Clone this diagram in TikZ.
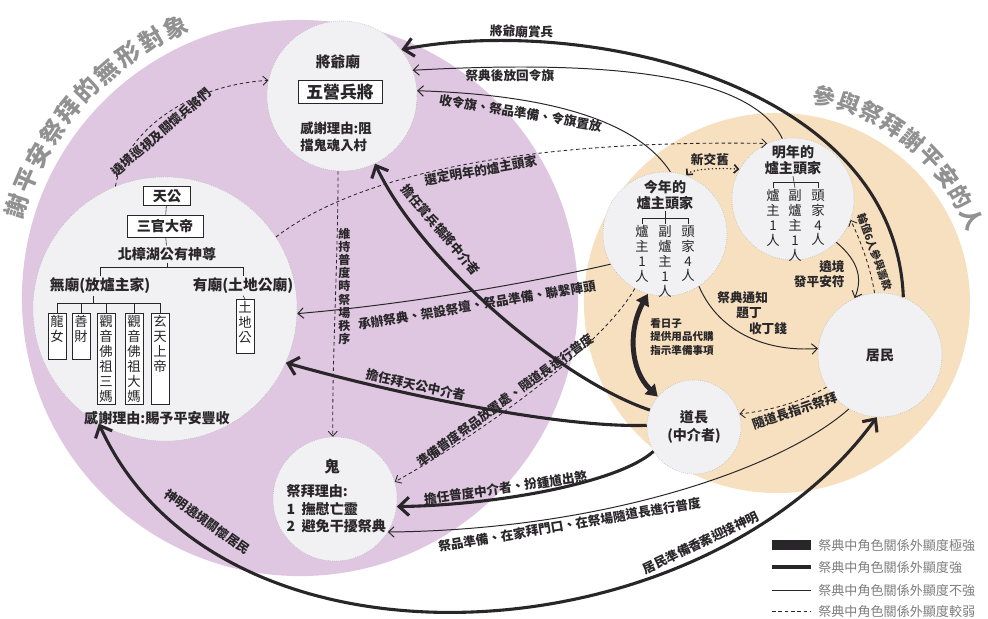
\documentclass[tikz,border=0pt]{standalone}
\usepackage{fontspec}
\setmainfont{Noto Sans CJK TC}
\usetikzlibrary{arrows.meta}

\definecolor{hallpurple}{RGB}{223,199,225}
\definecolor{folkbeige}{RGB}{247,224,191}
\definecolor{actorfill}{RGB}{241,241,243}
\definecolor{ink}{RGB}{40,38,40}
\definecolor{titlegray}{RGB}{145,145,145}
\definecolor{keygray}{RGB}{125,125,125}

\newcommand{\lblfont}{\fontsize{9}{10.5}\selectfont\bfseries}
\newcommand{\colfont}{\fontsize{9.5}{10.6}\selectfont}

\begin{document}
\begin{tikzpicture}[x=0.025cm, y=-0.025cm,
    actor/.style={circle, fill=actorfill, draw=gray!60, densely dotted, inner sep=0pt, text=ink},
    godbox/.style={draw=ink, thin, fill=white, inner sep=1pt, text=ink, font=\fontsize{10}{12}\selectfont\bfseries},
    colbox/.style={draw=ink, thin, fill=white, anchor=north, align=center, inner sep=1.5pt, text=ink, font=\colfont},
    colname/.style={anchor=north, align=center, inner sep=1pt, text=ink, font=\colfont},
    treeline/.style={draw=ink, thin},
    txt/.style={text=ink, inner sep=1pt, font=\fontsize{10}{12}\selectfont\bfseries},
    lbl/.style={text=ink, inner sep=1.5pt, font=\lblfont},
    strong/.style={draw=ink, line width=2.2pt, -{Straight Barb[length=7pt,width=13pt]}},
    weak/.style={draw=ink, line width=.7pt, -{Straight Barb[length=4pt,width=7.5pt]}},
    faint/.style={draw=ink, line width=.6pt, dash pattern=on 2.5pt off 2pt, -{Straight Barb[length=3.5pt,width=6.5pt]}},
    dotline/.style={draw=ink, line width=1.2pt, line cap=round, dash pattern=on 0pt off 2.6pt,
      {Straight Barb[length=3pt,width=6pt]}-{Straight Barb[length=3pt,width=6pt]}},
    vstrong/.style={draw=ink, line width=3.5pt, {Triangle[length=8pt,width=10pt]}-{Triangle[length=8pt,width=10pt]}},
    titletext/.style={text=titlegray, inner sep=0pt, font=\fontsize{17}{17}\selectfont\bfseries},
    keytext/.style={text=keygray, anchor=west, inner sep=0pt, font=\fontsize{9.3}{11}\selectfont}]

\useasboundingbox (0,0) rectangle (988,619);

% two groups
\fill[hallpurple] (300,298) circle [radius=6.95cm];
\fill[folkbeige] (777,303) ellipse [x radius=4.825cm, y radius=4.75cm];

\foreach \ch [count=\i from 0] in {謝,平,安,祭,拜,的,無,形,對,象} {
  \pgfmathsetmacro\ang{162-5.25*\i}
  \node[titletext, rotate=\ang-90] (lt\i) at ({300+298*cos(\ang)},{298-298*sin(\ang)}) {\ch};
}
\foreach \ch [count=\i from 0] in {參,與,祭,拜,謝,平,安,的,人} {
  \pgfmathsetmacro\ang{77-6.7*\i}
  \node[titletext, font=\fontsize{16}{16}\selectfont\bfseries, rotate=\ang-90] (rt\i) at ({777+212*cos(\ang)},{303-212*sin(\ang)}) {\ch};
}

% 將爺廟
\node[actor, minimum size=3.75cm] (jyt) at (342,96) {};
\node[txt, font=\fontsize{10.5}{12}\selectfont\bfseries] (jytname) at (338,62) {將爺廟};
\node[godbox, font=\fontsize{12}{14}\selectfont\bfseries, minimum width=2.1cm, minimum height=.575cm] (wuying) at (340,92) {五營兵將};
\node[txt, align=left, font=\fontsize{9.5}{12}\selectfont\bfseries] (jytwhy) at (336,137) {感謝理由:阻\\擋鬼魂入村};

% 天公
\node[actor, minimum size=6.6cm] (tg) at (165,309) {};
\node[godbox, minimum width=1.175cm, minimum height=.475cm] (tiangong) at (167,196) {天公};
\node[godbox, minimum width=1.9cm, minimum height=.55cm] (sanguan) at (165,226) {三官大帝};
\node[txt] (beizhang) at (167,254) {北樟湖公有神尊};
\node[txt, font=\fontsize{10.5}{12}\selectfont\bfseries] (wumiao) at (100,286) {無廟(放爐主家)};
\node[txt, font=\fontsize{10.5}{12}\selectfont\bfseries] (youmiao) at (243,286) {有廟(土地公廟)};
\node[colbox] (longnv) at (57,313) {龍\\女\\\phantom{女}};
\node[colbox] (shancai) at (81,313) {善\\財\\\phantom{財}};
\node[colbox] (sanma) at (106,313) {觀\\音\\佛\\祖\\三\\媽};
\node[colbox] (dama) at (134,313) {觀\\音\\佛\\祖\\大\\媽};
\node[colbox] (xuantian) at (160,313) {玄\\天\\上\\帝\\\phantom{帝}\\\phantom{帝}};
\node[colbox] (tudigong) at (245,299) {土\\地\\公\\[-5pt]\phantom{公}};
\node[txt] (tgwhy) at (157,418) {感謝理由:賜予平安豐收};

\coordinate (bar1) at (100,267);
\coordinate (bar2) at (93,303);
\draw[treeline] (tiangong) -- (sanguan);
\draw[treeline] (sanguan) -- (beizhang);
\draw[treeline] (beizhang.south) -- (beizhang.south |- bar1);
\draw[treeline] (wumiao.north) -- (wumiao.north |- bar1) -- (youmiao.north |- bar1) -- (youmiao.north);
\draw[treeline] (wumiao.south -| bar2) -- (bar2);
\draw[treeline] (longnv.north |- bar2) -- (xuantian.north |- bar2);
\foreach \n in {longnv,shancai,sanma,dama,xuantian}
  \draw[treeline] (\n.north) -- (\n.north |- bar2);
\draw[treeline] (youmiao.south) -- (tudigong.north);

% 鬼
\node[actor, minimum size=3.1cm] (gui) at (335,499) {};
\node[txt, font=\fontsize{11}{13}\selectfont\bfseries] (guiname) at (332,467) {鬼};
\node[txt, align=left, anchor=north west, font=\fontsize{10}{12.5}\selectfont\bfseries] (guiwhy) at (285,483) {祭拜理由:\\1\ \ 撫慰亡靈\\2\ \ 避免干擾祭典};

% 今年的爐主頭家
\node[actor, minimum size=3.1cm] (jin) at (665,234) {};
\node[colname, anchor=center, font=\fontsize{10}{11}\selectfont\bfseries] (jintitle) at (665,195) {今年的\\爐主頭家};
\node[colname] (jincol1) at (642,224) {爐\\主\\1\\人};
\node[colname] (jincol2) at (665,224) {副\\爐\\主\\1\\人};
\node[colname] (jincol3) at (688,224) {頭\\家\\4\\人};
\draw[treeline] (jincol1.north) -- ++(0,-6) -| (jincol3.north);
\draw[treeline] (jintitle.south) -- (jincol2.north);

% 明年的爐主頭家
\node[actor, minimum size=3.05cm] (ming) at (793,199) {};
\node[colname, anchor=center, font=\fontsize{10}{11}\selectfont\bfseries] (mingtitle) at (793,160) {明年的\\爐主頭家};
\node[colname] (mingcol1) at (773,188) {爐\\主\\1\\人};
\node[colname] (mingcol2) at (795,188) {副\\爐\\主\\1\\人};
\node[colname] (mingcol3) at (818,188) {頭\\家\\4\\人};
\draw[treeline] (mingcol1.north) -- ++(0,-6) -| (mingcol3.north);
\draw[treeline] (mingtitle.south) -- (mingcol2.north);

% 居民, 道長
\node[actor, minimum size=3.1cm, font=\fontsize{10}{12}\selectfont\bfseries] (jm) at (880,355) {居民};
\node[actor, minimum size=2.35cm, align=center, font=\fontsize{10}{12.5}\selectfont\bfseries] (dz) at (694,427) {道長\\(中介者)};

% relations
\draw[strong] (jm.68) .. controls (895,80) and (580,15) .. (jyt.38)
  node[lbl, pos=.8, above, sloped] (l1) {將爺廟賞兵};
\draw[weak] (ming.100) .. controls (750,72) and (600,60) .. (jyt.20)
  node[lbl, pos=.82, below, sloped] (l2) {祭典後放回令旗};
\draw[weak] (jin.85) .. controls (640,125) and (560,95) .. (jyt.4)
  node[lbl, pos=.72, below=3pt, sloped] (l3) {收令旗、祭品準備、令旗置放};
\draw[faint] (tg.33) .. controls (370,165) and (560,140) .. (ming.115)
  node[lbl, pos=.5, below, sloped] (l4) {選定明年的爐主頭家};
\draw[faint] (tg.112) .. controls (125,130) and (190,85) .. (jyt.168)
  node[lbl, pos=.42, below=2pt, sloped] (l5) {遶境巡視及關懷兵將們};
\draw[faint] (jyt.-93) .. controls (338,260) and (332,360) .. (gui.92)
  node[lbl, pos=.42, right, align=center, font=\fontsize{8.5}{9.3}\selectfont\bfseries] (l6) {維\\持\\普\\度\\時\\祭\\場\\秩\\序};
\draw[strong] (dz.159) .. controls (560,380) and (420,260) .. (jyt.-64)
  node[lbl, pos=.74, above=6pt, sloped] (l7) {擔任賞兵犒將中介者};
\draw[weak] (jin.209) .. controls (520,285) and (400,305) .. (tg.-2)
  node[lbl, pos=.45, below=4pt, sloped] (l8) {承辦祭典、架設祭壇、祭品準備、聯繫陣頭};
\draw[strong] (dz.178) .. controls (560,428) and (400,395) .. (tg.-24)
  node[lbl, pos=.66, above, sloped] (l9) {擔任拜天公中介者};
\draw[faint] (jin.241) .. controls (600,350) and (470,440) .. (gui.16)
  node[lbl, pos=.57, above, sloped] (l10) {準備普度祭品放置處、隨道長進行普度};
\draw[strong] (dz.211) .. controls (620,482) and (500,505) .. (gui.-7)
  node[lbl, pos=.65, above, sloped] (l11) {擔任普度中介者、扮鍾馗出煞};
\draw[weak] (jm.240) .. controls (780,470) and (600,530) .. (gui.-32)
  node[lbl, pos=.7, below, sloped] (l12) {祭品準備、在家拜門口、在祭場隨道長進行普度};
\draw[strong, {Straight Barb[length=7pt,width=13pt]}-{Straight Barb[length=7pt,width=13pt]}]
  (tg.240) .. controls (220,690) and (700,660) .. (jm.267)
  node[lbl, pos=.18, above=8pt, sloped] (l13a) {神明遶境關懷居民}
  node[lbl, pos=.76, above=2pt, sloped] (l13b) {居民準備香案迎接神明};
\draw[dotline] (jin.70) .. controls (693,168) and (725,168) .. (ming.151)
  node[lbl, pos=.5, above] (l14) {新交舊};
\draw[weak] (jin.-57) .. controls (720,335) and (770,352) .. (jm.174);
\node[lbl, align=left, anchor=north west, font=\fontsize{9}{11}\selectfont\bfseries] (l15) at (715,289)
  {祭典通知\\\hspace{1.5em}題丁\\\hspace{2.5em}收丁錢};
\draw[weak] (ming.-45) .. controls (860,262) and (862,280) .. (jm.114);
\node[lbl, align=right, anchor=east] (l16) at (847,274) {遶境\\發平安符};
\draw[faint] (jm.95) .. controls (870,265) and (860,240) .. (ming.-20);
\node[lbl, rotate=-70, font=\fontsize{7.5}{9}\selectfont\bfseries] (l17) at (875,252) {輪值6人參與籌款};
\draw[faint] (jm.211) .. controls (805,400) and (775,410) .. (dz.16)
  node[lbl, pos=.45, below, sloped] (l18) {隨道長指示祭拜};
\draw[vstrong] (jin.254) .. controls (628,330) and (630,370) .. (dz.140);
\node[lbl, align=left, anchor=north west, font=\fontsize{7.5}{9.6}\selectfont\bfseries] (l19) at (648,316)
  {看日子\\提供用品代購\\指示準備事項};

% legend
\coordinate (key1a) at (772,545); \coordinate (key1b) at (811,545);
\coordinate (key2a) at (772,567); \coordinate (key2b) at (811,567);
\coordinate (key3a) at (772,590); \coordinate (key3b) at (811,590);
\coordinate (key4a) at (772,611); \coordinate (key4b) at (811,611);
\draw[ink, line width=7pt] (key1a) -- (key1b);
\draw[ink, line width=3pt] (key2a) -- (key2b);
\draw[ink, line width=.6pt] (key3a) -- (key3b);
\draw[ink, line width=.6pt, dash pattern=on 2.5pt off 2pt] (key4a) -- (key4b);
\node[keytext] (keyt1) at (818,545) {祭典中角色關係外顯度極強};
\node[keytext] (keyt2) at (818,567) {祭典中角色關係外顯度強};
\node[keytext] (keyt3) at (818,590) {祭典中角色關係外顯度不強};
\node[keytext] (keyt4) at (818,611) {祭典中角色關係外顯度較弱};
\end{tikzpicture}
\end{document}
